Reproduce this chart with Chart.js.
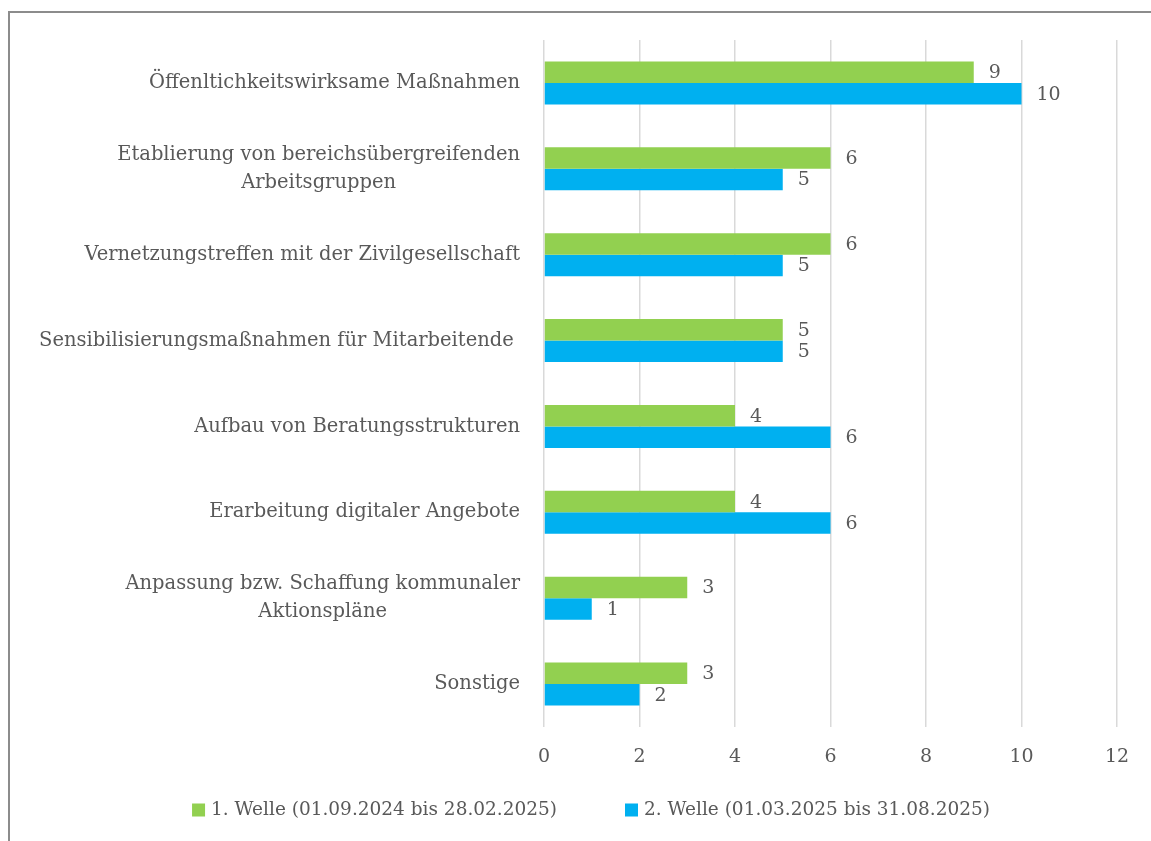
<!DOCTYPE html>
<html>
<head>
<meta charset="utf-8">
<script src="https://cdn.jsdelivr.net/npm/chart.js@4"></script>
<style>
  html, body { margin: 0; padding: 0; background: #fff; overflow: hidden; }
  #wrap { position: relative; width: 1151px; height: 841px; }
</style>
</head>
<body>
<div id="wrap"><canvas id="massnahmenChart"></canvas></div>
<script>
// Kategorien (von oben nach unten)
const categories = [
    'Öffenltichkeitswirksame Maßnahmen',
    ['Etablierung von bereichsübergreifenden', 'Arbeitsgruppen'],
    'Vernetzungstreffen mit der Zivilgesellschaft',
    'Sensibilisierungsmaßnahmen für Mitarbeitende ',
    'Aufbau von Beratungsstrukturen',
    'Erarbeitung digitaler Angebote',
    ['Anpassung bzw. Schaffung kommunaler', 'Aktionspläne'],
    'Sonstige'
];
const welle1 = [9, 6, 6, 5, 4, 4, 3, 3];
const welle2 = [10, 5, 5, 5, 6, 6, 1, 2];
const seriesLabels = ['1. Welle (01.09.2024 bis 28.02.2025)', '2. Welle (01.03.2025 bis 31.08.2025)'];
const xMin = 0, xMax = 12, xStep = 2;

const FONT = '"DejaVu Serif", "Liberation Serif", serif';
const TEXT_COLOR = '#595959';
const LABEL_SIZE = 19.5;
const TICK_SIZE = 19;
const LEGEND_SIZE = 18.5;

// Rahmen um das Diagramm
const borderPlugin = {
    id: 'frame',
    beforeDraw: function (chart) {
        const ctx = chart.ctx;
        ctx.save();
        ctx.strokeStyle = '#8c8c8c';
        ctx.lineWidth = 2;
        ctx.strokeRect(9, 12, 1200, 900);
        ctx.restore();
    }
};

// Kategorie-Beschriftungen (mehrzeilig zentriert, Block rechtsbündig)
const categoryLabelPlugin = {
    id: 'catLabels',
    afterDraw: function (chart) {
        const ctx = chart.ctx;
        const yScale = chart.scales.y;
        const rightEdge = chart.chartArea.left - 24;
        const lineH = 28;
        ctx.save();
        ctx.font = LABEL_SIZE + 'px ' + FONT;
        ctx.fillStyle = TEXT_COLOR;
        ctx.textBaseline = 'middle';
        categories.forEach(function (label, i) {
            const y = yScale.getPixelForValue(i);
            const lines = Array.isArray(label) ? label : [label];
            const maxW = Math.max.apply(null, lines.map(function (l) { return ctx.measureText(l).width; }));
            const startY = y - (lines.length - 1) * lineH / 2;
            lines.forEach(function (l, j) {
                if (lines.length > 1) {
                    ctx.textAlign = 'center';
                    ctx.fillText(l, rightEdge - maxW / 2, startY + j * lineH);
                } else {
                    ctx.textAlign = 'right';
                    ctx.fillText(l, rightEdge, startY);
                }
            });
        });
        ctx.restore();
    }
};

// Datenbeschriftungen rechts neben den Balken
const valueLabelPlugin = {
    id: 'valueLabels',
    afterDatasetsDraw: function (chart) {
        const ctx = chart.ctx;
        ctx.save();
        ctx.font = TICK_SIZE + 'px ' + FONT;
        ctx.fillStyle = TEXT_COLOR;
        ctx.textAlign = 'left';
        ctx.textBaseline = 'middle';
        chart.data.datasets.forEach(function (ds, di) {
            chart.getDatasetMeta(di).data.forEach(function (bar, i) {
                ctx.fillText(String(ds.data[i]), bar.x + 15, bar.y + 1);
            });
        });
        ctx.restore();
    }
};

// Legende unten
const legendPlugin = {
    id: 'bottomLegend',
    afterDraw: function (chart) {
        const ctx = chart.ctx;
        const box = 13, gapText = 6, gapItems = 68, y = 810;
        ctx.save();
        ctx.font = LEGEND_SIZE + 'px ' + FONT;
        const items = chart.data.datasets.map(function (ds) {
            return { text: ds.label, color: ds.backgroundColor, w: box + gapText + ctx.measureText(ds.label).width };
        });
        const total = items.reduce(function (s, it) { return s + it.w; }, 0) + gapItems * (items.length - 1);
        let x = 591 - total / 2;
        items.forEach(function (it) {
            ctx.fillStyle = it.color;
            ctx.fillRect(x, y - box / 2, box, box);
            ctx.fillStyle = TEXT_COLOR;
            ctx.textAlign = 'left';
            ctx.textBaseline = 'middle';
            ctx.fillText(it.text, x + box + gapText, y);
            x += it.w + gapItems;
        });
        ctx.restore();
    }
};

const ctx = document.getElementById('massnahmenChart').getContext('2d');
new Chart(ctx, {
    type: 'bar',
    data: {
        labels: categories,
        datasets: [{
            label: seriesLabels[0],
            data: welle1,
            backgroundColor: '#92D050',
            categoryPercentage: 0.5,
            barPercentage: 1.0
        }, {
            label: seriesLabels[1],
            data: welle2,
            backgroundColor: '#00B0F0',
            categoryPercentage: 0.5,
            barPercentage: 1.0
        }]
    },
    options: {
        indexAxis: 'y',
        responsive: true,
        maintainAspectRatio: false,
        animation: false,
        layout: { padding: { top: 40, right: 34, left: 0, bottom: 0 } },
        plugins: {
            legend: { display: false },
            tooltip: { enabled: false }
        },
        scales: {
            x: {
                min: xMin,
                max: xMax,
                ticks: {
                    stepSize: xStep,
                    color: TEXT_COLOR,
                    font: { family: FONT, size: TICK_SIZE },
                    padding: 19
                },
                grid: { color: '#d9d9d9', lineWidth: 1.5, drawTicks: false },
                border: { display: false },
                afterFit: function (scale) { scale.height = 114; }
            },
            y: {
                ticks: { display: false },
                grid: { display: false },
                border: { display: false },
                afterFit: function (scale) { scale.width = 544; }
            }
        }
    },
    plugins: [borderPlugin, categoryLabelPlugin, valueLabelPlugin, legendPlugin]
});
</script>
</body>
</html>
